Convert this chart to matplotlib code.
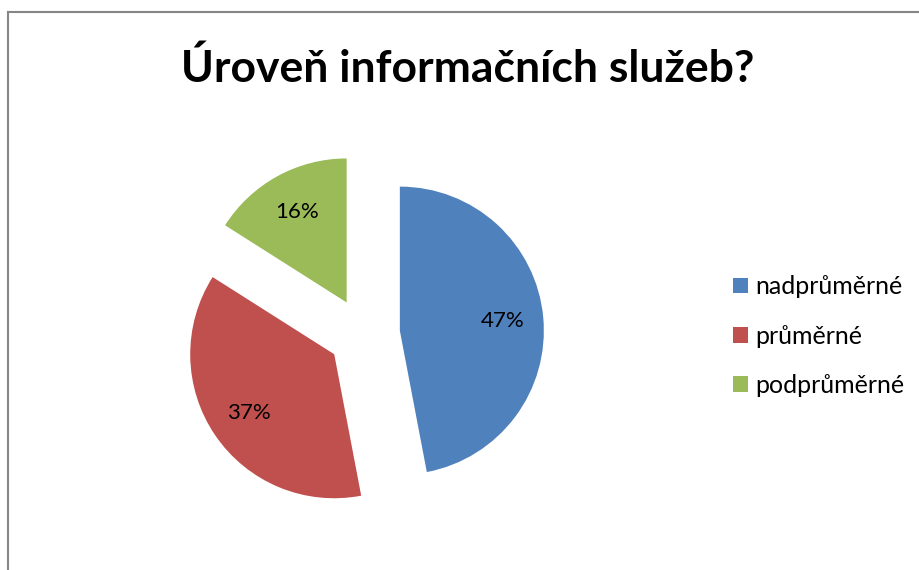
import matplotlib.pyplot as plt
from matplotlib.lines import Line2D

# Data
labels = ['nadprůměrné', 'průměrné', 'podprůměrné']
values = [47, 37, 16]
colors = ['#4F81BD', '#C0504D', '#9BBB59']
title = 'Úroveň informačních služeb?'

plt.rcParams['font.family'] = ['Lato', 'Open Sans', 'DejaVu Sans']

W, H = 919, 570
fig = plt.figure(figsize=(W / 100, H / 100), dpi=100)
ax = fig.add_axes([0, 0, 1, 1])

# note: explode in pie() is in data units (not scaled by radius)
wedges, texts, autotexts = ax.pie(
    values, colors=colors, startangle=90, counterclock=False,
    explode=[36, 36, 36], center=(364, H - 334), radius=144,
    autopct='%1.0f%%', pctdistance=0.72,
    textprops={'fontsize': 16, 'color': 'black'},
    wedgeprops={'linewidth': 0},
)
ax.set_xlim(0, W)
ax.set_ylim(0, H)
ax.set_aspect('equal')
ax.axis('off')

fig.text(468 / W, 1 - 68 / H, title, ha='center', va='center',
         fontsize=32, fontweight='bold')

ax.legend(wedges, labels, loc='center left',
          bbox_to_anchor=(710 / W, 1 - 336 / H), bbox_transform=fig.transFigure,
          frameon=False, fontsize=18, handlelength=0.6, handleheight=0.6,
          handletextpad=0.3, labelspacing=1.05)

# chart border (left and top only visible)
grey = '#868686'
fig.add_artist(Line2D([8 / W, 8 / W], [0, 1 - 12 / H], color=grey, lw=1.5,
                      transform=fig.transFigure))
fig.add_artist(Line2D([8 / W, 1], [1 - 12 / H, 1 - 12 / H], color=grey, lw=1.5,
                      transform=fig.transFigure))

fig.savefig('out.png', dpi=100)
